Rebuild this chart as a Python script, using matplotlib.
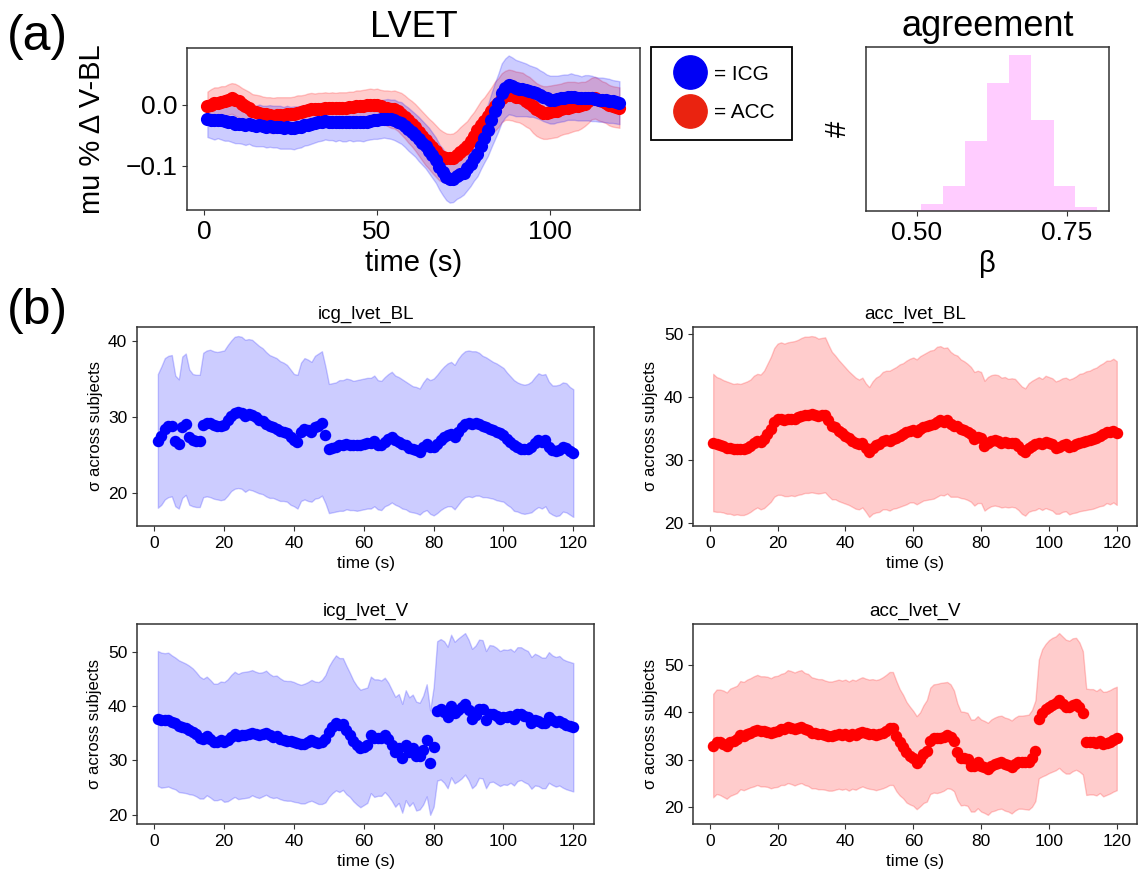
import numpy as np
import matplotlib
matplotlib.use('Agg')
import matplotlib.pyplot as plt
from matplotlib.lines import Line2D
from matplotlib.ticker import MultipleLocator

plt.rcParams['font.family'] = ['Liberation Sans', 'DejaVu Sans']
plt.rcParams['axes.edgecolor'] = '#333333'
plt.rcParams['axes.linewidth'] = 1.1
plt.rcParams['xtick.color'] = '#333333'
plt.rcParams['ytick.color'] = '#333333'
plt.rcParams['xtick.labelcolor'] = 'black'
plt.rcParams['ytick.labelcolor'] = 'black'

# time axis (s)
t = np.arange(1, 121)

# (a) LVET: mean % change V-BL, ICG and ACC, with spread
lvet_icg = [
    -0.024, -0.025, -0.026, -0.025, -0.026, -0.027, -0.028, -0.029, -0.032, -0.031,
    -0.032, -0.033, -0.032, -0.034, -0.035, -0.034, -0.035, -0.036, -0.035, -0.036,
    -0.036, -0.037, -0.038, -0.037, -0.038, -0.038, -0.037, -0.036, -0.034, -0.033,
    -0.032, -0.030, -0.029, -0.028, -0.027, -0.028, -0.028, -0.029, -0.028, -0.029,
    -0.029, -0.028, -0.029, -0.029, -0.028, -0.029, -0.028, -0.027, -0.026, -0.025,
    -0.024, -0.023, -0.023, -0.024, -0.025, -0.028, -0.030, -0.035, -0.040, -0.045,
    -0.050, -0.056, -0.062, -0.068, -0.075, -0.083, -0.091, -0.102, -0.110, -0.118,
    -0.122, -0.121, -0.117, -0.114, -0.111, -0.104, -0.097, -0.088, -0.080, -0.067,
    -0.054, -0.042, -0.026, -0.011, 0.003, 0.019, 0.027, 0.032, 0.030, 0.027,
    0.026, 0.025, 0.024, 0.022, 0.021, 0.019, 0.016, 0.013, 0.010, 0.008,
    0.008, 0.009, 0.010, 0.011, 0.012, 0.013, 0.012, 0.011, 0.010, 0.011,
    0.011, 0.010, 0.009, 0.008, 0.008, 0.007, 0.006, 0.005, 0.004, 0.003]
lvet_icg_sd = [
    0.029, 0.030, 0.031, 0.030, 0.031, 0.032, 0.031, 0.032, 0.031, 0.032,
    0.032, 0.033, 0.032, 0.033, 0.033, 0.034, 0.033, 0.034, 0.034, 0.034,
    0.034, 0.035, 0.034, 0.035, 0.034, 0.035, 0.034, 0.034, 0.033, 0.033,
    0.032, 0.032, 0.031, 0.031, 0.030, 0.030, 0.030, 0.031, 0.030, 0.031,
    0.031, 0.030, 0.031, 0.030, 0.031, 0.031, 0.030, 0.030, 0.030, 0.031,
    0.031, 0.031, 0.032, 0.032, 0.033, 0.033, 0.034, 0.034, 0.035, 0.035,
    0.035, 0.036, 0.036, 0.036, 0.037, 0.037, 0.037, 0.037, 0.038, 0.038,
    0.038, 0.038, 0.037, 0.037, 0.036, 0.036, 0.036, 0.036, 0.037, 0.038,
    0.040, 0.042, 0.044, 0.046, 0.047, 0.048, 0.048, 0.048, 0.047, 0.046,
    0.045, 0.044, 0.043, 0.042, 0.041, 0.041, 0.040, 0.040, 0.039, 0.039,
    0.039, 0.038, 0.038, 0.038, 0.037, 0.038, 0.037, 0.037, 0.036, 0.037,
    0.037, 0.037, 0.036, 0.036, 0.036, 0.036, 0.036, 0.035, 0.035, 0.035]
lvet_acc = [
    -0.003, 0.000, 0.003, 0.003, 0.004, 0.005, 0.008, 0.010, 0.008, 0.005,
    0.001, -0.003, -0.006, -0.010, -0.012, -0.013, -0.015, -0.016, -0.017, -0.018,
    -0.017, -0.017, -0.017, -0.016, -0.016, -0.015, -0.013, -0.012, -0.011, -0.009,
    -0.008, -0.008, -0.007, -0.007, -0.006, -0.006, -0.005, -0.006, -0.005, -0.005,
    -0.005, -0.004, -0.004, -0.003, -0.003, -0.002, -0.001, 0.000, -0.001, -0.001,
    -0.003, -0.005, -0.006, -0.008, -0.008, -0.011, -0.015, -0.020, -0.026, -0.031,
    -0.037, -0.044, -0.051, -0.058, -0.064, -0.070, -0.076, -0.082, -0.085, -0.088,
    -0.088, -0.087, -0.083, -0.077, -0.072, -0.067, -0.059, -0.051, -0.042, -0.033,
    -0.027, -0.019, -0.011, -0.003, 0.003, 0.011, 0.015, 0.016, 0.015, 0.013,
    0.012, 0.010, 0.006, 0.003, -0.003, -0.008, -0.011, -0.013, -0.013, -0.012,
    -0.011, -0.010, -0.008, -0.006, -0.005, -0.004, -0.003, -0.003, -0.001, 0.001,
    0.005, 0.010, 0.011, 0.008, 0.005, 0.003, -0.001, -0.003, -0.004, -0.005]
lvet_acc_sd = [
    0.024, 0.025, 0.025, 0.025, 0.026, 0.025, 0.025, 0.025, 0.026, 0.026,
    0.026, 0.027, 0.027, 0.027, 0.028, 0.028, 0.028, 0.028, 0.029, 0.029,
    0.029, 0.029, 0.029, 0.028, 0.028, 0.028, 0.028, 0.027, 0.027, 0.027,
    0.027, 0.026, 0.026, 0.026, 0.026, 0.025, 0.025, 0.025, 0.025, 0.025,
    0.025, 0.025, 0.025, 0.026, 0.026, 0.026, 0.026, 0.026, 0.026, 0.027,
    0.027, 0.028, 0.029, 0.030, 0.031, 0.032, 0.034, 0.035, 0.036, 0.037,
    0.038, 0.039, 0.040, 0.041, 0.041, 0.042, 0.042, 0.042, 0.041, 0.041,
    0.040, 0.040, 0.040, 0.040, 0.040, 0.040, 0.040, 0.039, 0.039, 0.039,
    0.039, 0.039, 0.039, 0.040, 0.040, 0.040, 0.040, 0.041, 0.041, 0.041,
    0.041, 0.042, 0.042, 0.042, 0.043, 0.043, 0.043, 0.043, 0.043, 0.043,
    0.043, 0.043, 0.042, 0.042, 0.042, 0.041, 0.040, 0.039, 0.038, 0.036,
    0.035, 0.034, 0.034, 0.034, 0.033, 0.033, 0.033, 0.033, 0.033, 0.033]

# agreement histogram (beta)
beta_edges = [0.471, 0.507, 0.544, 0.581, 0.617, 0.654, 0.691, 0.728, 0.764, 0.801]
beta_counts = [1, 5, 18, 50, 91, 111, 65, 18, 3]

# (b) sigma across subjects
icg_bl = [
    26.8, 27.5, 28.4, 28.7, 28.8, 26.8, 26.4, 28.6, 29.0, 27.3,
    26.9, 26.8, 26.8, 28.9, 29.1, 29.1, 28.9, 28.8, 28.8, 28.9,
    29.5, 30.1, 30.5, 30.6, 30.5, 30.1, 30.3, 30.2, 29.9, 29.6,
    29.4, 29.0, 28.7, 28.6, 28.4, 28.1, 28.0, 27.8, 27.3, 26.9,
    26.7, 28.0, 28.4, 28.2, 28.0, 28.6, 28.8, 29.1, 27.6, 25.8,
    25.9, 26.0, 26.2, 26.2, 26.4, 26.3, 26.2, 26.2, 26.3, 26.4,
    26.5, 26.5, 26.8, 26.3, 26.2, 26.7, 27.0, 27.3, 26.9, 26.7,
    26.4, 26.2, 25.9, 25.7, 25.6, 25.4, 26.0, 26.4, 26.0, 26.0,
    26.4, 26.9, 27.3, 27.6, 27.7, 27.3, 28.0, 28.6, 29.0, 29.1,
    29.0, 29.1, 29.0, 28.7, 28.6, 28.4, 28.2, 28.0, 27.8, 27.6,
    27.1, 26.7, 26.2, 26.0, 25.8, 25.7, 25.8, 26.0, 26.5, 26.9,
    26.7, 26.9, 26.0, 25.6, 25.5, 25.6, 26.0, 25.9, 25.5, 25.2]
icg_bl_sd = [
    8.8, 9.1, 9.3, 9.3, 9.3, 8.6, 8.5, 9.3, 9.3, 8.9,
    8.7, 8.7, 8.7, 9.5, 9.6, 9.7, 9.7, 9.7, 9.8, 9.8,
    9.9, 9.9, 10.0, 10.0, 10.0, 10.0, 9.9, 9.9, 9.8, 9.7,
    9.6, 9.5, 9.4, 9.3, 9.3, 9.2, 9.1, 9.0, 8.9, 8.7,
    8.8, 9.1, 9.3, 9.3, 9.2, 9.4, 9.5, 9.5, 9.0, 8.5,
    8.5, 8.5, 8.6, 8.6, 8.6, 8.6, 8.5, 8.6, 8.6, 8.6,
    8.6, 8.6, 8.6, 8.5, 8.5, 8.5, 8.6, 8.6, 8.5, 8.5,
    8.5, 8.4, 8.4, 8.3, 8.3, 8.3, 8.5, 8.7, 8.8, 9.0,
    9.1, 9.2, 9.3, 9.4, 9.5, 9.5, 9.6, 9.6, 9.6, 9.6,
    9.6, 9.5, 9.4, 9.3, 9.2, 9.1, 9.0, 9.0, 8.9, 8.8,
    8.7, 8.6, 8.6, 8.5, 8.5, 8.5, 8.5, 8.6, 8.7, 8.8,
    8.8, 8.7, 8.6, 8.5, 8.6, 8.6, 8.5, 8.5, 8.4, 8.4]
acc_bl = [
    32.8, 32.5, 32.4, 32.2, 32.0, 31.9, 31.7, 31.8, 31.7, 31.8,
    32.0, 32.3, 32.8, 33.1, 32.9, 33.3, 34.1, 34.9, 36.0, 36.5,
    36.6, 36.4, 36.5, 36.6, 36.6, 36.8, 37.0, 37.2, 37.2, 37.3,
    37.2, 37.0, 37.1, 37.2, 36.3, 35.5, 35.2, 34.7, 34.3, 33.9,
    33.5, 33.1, 32.7, 32.5, 32.8, 32.0, 31.3, 32.0, 32.4, 32.6,
    33.1, 33.2, 33.1, 33.4, 33.6, 33.9, 34.1, 34.4, 34.7, 34.8,
    34.5, 34.9, 35.2, 35.4, 35.6, 35.7, 36.1, 36.3, 36.1, 36.3,
    35.7, 35.5, 35.4, 35.0, 34.8, 34.5, 34.1, 33.4, 33.7, 33.6,
    32.3, 32.8, 33.1, 33.2, 33.1, 32.8, 32.9, 32.7, 32.8, 32.7,
    32.2, 31.6, 31.3, 32.0, 32.3, 32.5, 32.8, 32.5, 32.9, 32.7,
    32.5, 32.0, 32.1, 32.4, 32.5, 32.1, 32.3, 32.5, 32.8, 32.9,
    33.1, 33.2, 33.4, 33.6, 33.9, 34.1, 34.5, 34.4, 34.7, 34.3]
acc_bl_sd = [
    10.9, 10.7, 10.6, 10.5, 10.5, 10.4, 10.4, 10.4, 10.4, 10.5,
    10.5, 10.5, 10.6, 10.6, 10.7, 10.9, 11.2, 11.5, 11.8, 12.0,
    12.1, 12.1, 12.2, 12.2, 12.3, 12.3, 12.4, 12.4, 12.4, 12.4,
    12.4, 12.3, 12.3, 12.3, 12.0, 11.7, 11.4, 11.2, 11.0, 10.8,
    10.6, 10.5, 10.4, 10.3, 10.3, 10.2, 10.3, 10.5, 10.7, 10.8,
    10.9, 11.0, 11.1, 11.1, 11.2, 11.3, 11.3, 11.4, 11.4, 11.5,
    11.5, 11.6, 11.6, 11.7, 11.8, 11.8, 11.9, 11.8, 11.7, 11.6,
    11.5, 11.3, 11.2, 11.0, 10.9, 10.8, 10.7, 10.6, 10.5, 10.4,
    10.3, 10.4, 10.4, 10.4, 10.4, 10.3, 10.3, 10.2, 10.2, 10.2,
    10.1, 10.1, 10.1, 10.2, 10.3, 10.4, 10.4, 10.4, 10.5, 10.5,
    10.5, 10.5, 10.6, 10.6, 10.6, 10.7, 10.7, 10.8, 10.9, 10.9,
    11.0, 11.0, 11.1, 11.1, 11.2, 11.3, 11.3, 11.4, 11.4, 11.4]
icg_v = [
    37.7, 37.4, 37.4, 37.5, 37.1, 36.8, 36.3, 36.1, 35.9, 35.6,
    35.3, 34.8, 34.2, 34.0, 34.5, 34.0, 33.4, 33.4, 33.7, 33.4,
    33.7, 34.3, 34.8, 34.4, 34.6, 34.7, 34.8, 35.1, 34.8, 34.6,
    34.8, 35.1, 34.6, 34.3, 34.4, 34.0, 33.7, 33.6, 33.6, 33.4,
    33.2, 33.0, 33.1, 33.4, 33.7, 33.4, 33.2, 33.4, 34.0, 35.3,
    36.2, 36.9, 36.5, 36.7, 35.6, 34.7, 33.6, 32.8, 32.2, 32.5,
    32.8, 34.7, 34.1, 34.2, 34.1, 34.7, 33.9, 32.8, 31.6, 32.2,
    30.4, 32.8, 31.6, 32.2, 30.8, 30.8, 31.9, 33.7, 29.6, 32.5,
    39.1, 39.4, 38.9, 37.9, 40.0, 38.8, 39.3, 39.8, 40.4, 39.3,
    37.7, 38.3, 39.5, 39.4, 37.5, 38.6, 38.6, 38.2, 37.7, 38.0,
    37.9, 38.2, 37.7, 38.5, 38.6, 38.2, 37.9, 36.9, 37.5, 37.3,
    36.9, 36.9, 37.9, 37.4, 37.1, 37.3, 36.8, 36.5, 36.3, 36.1]
icg_v_sd = [
    12.4, 12.4, 12.3, 12.3, 12.2, 12.1, 12.1, 12.0, 11.9, 11.8,
    11.6, 11.4, 11.2, 11.0, 10.9, 10.8, 10.7, 10.7, 10.8, 11.0,
    11.2, 11.4, 11.5, 11.5, 11.6, 11.6, 11.6, 11.5, 11.5, 11.5,
    11.4, 11.4, 11.3, 11.2, 11.2, 11.1, 11.0, 11.0, 11.0, 11.0,
    10.9, 10.9, 11.0, 11.0, 11.1, 11.1, 11.2, 11.4, 11.7, 12.0,
    12.2, 12.4, 12.3, 12.1, 11.8, 11.4, 11.1, 10.9, 10.8, 10.7,
    10.6, 10.7, 10.8, 10.7, 10.6, 10.5, 10.4, 10.2, 10.1, 10.0,
    10.0, 10.1, 10.0, 9.9, 10.0, 9.8, 10.0, 10.3, 9.6, 11.0,
    12.8, 12.9, 13.0, 13.0, 13.1, 13.0, 13.1, 13.1, 13.0, 12.9,
    12.8, 12.8, 12.7, 12.7, 12.6, 12.6, 12.5, 12.5, 12.4, 12.4,
    12.4, 12.3, 12.3, 12.3, 12.2, 12.2, 12.2, 12.1, 12.1, 12.0,
    12.0, 12.0, 12.0, 11.9, 11.9, 11.9, 11.8, 11.8, 11.8, 11.8]
acc_v = [
    33.0, 33.8, 33.7, 33.4, 33.0, 33.7, 34.0, 34.3, 35.2, 35.0,
    35.4, 35.7, 36.0, 36.3, 36.0, 36.0, 35.9, 35.6, 35.9, 36.0,
    36.4, 36.5, 37.0, 36.8, 36.5, 36.8, 37.0, 36.5, 36.3, 35.7,
    35.6, 35.4, 35.4, 35.2, 35.0, 35.0, 35.2, 35.4, 35.2, 35.4,
    35.0, 35.4, 35.2, 35.6, 35.9, 35.6, 35.4, 35.4, 35.2, 35.4,
    35.7, 36.1, 36.6, 36.6, 35.0, 33.7, 32.8, 31.6, 30.9, 30.3,
    29.4, 30.1, 31.2, 31.9, 34.0, 34.5, 34.5, 34.7, 34.9, 35.2,
    34.9, 34.0, 31.7, 30.3, 30.3, 30.1, 28.8, 28.8, 29.5, 28.8,
    28.5, 28.1, 28.8, 29.1, 29.4, 29.5, 29.1, 28.9, 28.5, 29.1,
    29.5, 29.5, 29.5, 29.5, 30.3, 31.9, 38.6, 39.9, 40.6, 41.2,
    41.6, 41.9, 42.5, 41.8, 41.2, 41.1, 41.6, 41.8, 41.1, 39.9,
    33.8, 33.8, 33.8, 33.5, 34.0, 33.3, 33.5, 33.8, 34.2, 34.5]
acc_v_sd = [
    10.9, 11.0, 11.1, 11.2, 11.2, 11.3, 11.3, 11.3, 11.4, 11.4,
    11.5, 11.5, 11.6, 11.6, 11.6, 11.6, 11.6, 11.6, 11.7, 11.7,
    11.7, 11.8, 11.9, 11.9, 11.9, 11.9, 11.9, 11.8, 11.8, 11.7,
    11.6, 11.6, 11.6, 11.5, 11.5, 11.5, 11.5, 11.5, 11.5, 11.5,
    11.5, 11.5, 11.5, 11.5, 11.5, 11.5, 11.5, 11.6, 11.6, 11.6,
    11.7, 11.8, 11.9, 11.9, 11.6, 11.2, 10.9, 10.6, 10.3, 10.0,
    9.8, 9.9, 10.3, 10.7, 11.2, 11.4, 11.5, 11.5, 11.4, 11.2,
    11.0, 10.6, 10.2, 9.9, 9.8, 9.8, 9.7, 9.7, 9.7, 9.7,
    9.7, 9.7, 9.7, 9.8, 9.8, 9.8, 9.8, 9.8, 9.8, 9.8,
    9.8, 9.8, 9.9, 10.0, 10.2, 10.6, 12.5, 13.4, 13.8, 14.0,
    14.1, 14.1, 14.2, 14.2, 14.1, 14.0, 14.0, 13.9, 13.6, 13.0,
    11.2, 11.1, 11.1, 11.0, 11.0, 11.0, 10.9, 10.9, 10.9, 10.9]

fig = plt.figure(figsize=(11.46, 8.75), dpi=100)

# ---- (a) LVET
ax = fig.add_axes([0.163, 0.760, 0.3955, 0.185])
m, s = np.array(lvet_acc), np.array(lvet_acc_sd)
ax.fill_between(t, m - s, m + s, color='red', alpha=0.2)
m2, s2 = np.array(lvet_icg), np.array(lvet_icg_sd)
ax.fill_between(t, m2 - s2, m2 + s2, color='blue', alpha=0.2)
ax.scatter(t, lvet_acc, s=90, color='red', lw=0, zorder=3)
ax.scatter(t, lvet_icg, s=90, color='blue', lw=0, zorder=4)
ax.set_title('LVET', fontsize=26, pad=8)
ax.set_xlabel('time (s)', fontsize=21)
ax.set_ylabel('mu % \u0394 V-BL', fontsize=21, labelpad=14)
ax.set_xticks([0, 50, 100])
ax.set_yticks([-0.1, 0.0])
ax.tick_params(labelsize=19)

handles = [Line2D([], [], ls='none', marker='o', ms=24, color='#0000f5'),
           Line2D([], [], ls='none', marker='o', ms=24, color='#ea2310')]
leg = fig.legend(handles, ['= ICG', '= ACC'], loc='upper left',
                 bbox_to_anchor=(651 / 1146, 1 - 47 / 875), borderaxespad=0,
                 fontsize=15, fancybox=False, edgecolor='black', framealpha=1,
                 handletextpad=0.15, labelspacing=0.95, borderpad=0.85,
                 handlelength=2.0)
leg.get_frame().set_linewidth(1.3)

# ---- agreement histogram
axh = fig.add_axes([0.7557, 0.7589, 0.212, 0.1874])
axh.hist(beta_edges[:-1], bins=beta_edges, weights=beta_counts, color='#ffccff')
axh.set_xlim(0.415, 0.8205)
axh.set_yticks([])
axh.set_xticks([0.5, 0.75])
axh.set_xticklabels(['0.50', '0.75'])
axh.tick_params(labelsize=19)
axh.set_title('agreement', fontsize=26, pad=8)
axh.set_xlabel('\u03b2', fontsize=21)
axh.set_ylabel('#', fontsize=21, labelpad=10)

# ---- (b) panels
panels = [
    ('icg_lvet_BL', icg_bl, icg_bl_sd, 'blue', [0.1196, 0.3989, 0.3988, 0.2274]),
    ('acc_lvet_BL', acc_bl, acc_bl_sd, 'red', [0.6047, 0.3989, 0.3874, 0.2274]),
    ('icg_lvet_V', icg_v, icg_v_sd, 'blue', [0.1196, 0.0583, 0.3988, 0.2286]),
    ('acc_lvet_V', acc_v, acc_v_sd, 'red', [0.6047, 0.0583, 0.3874, 0.2286]),
]
for name, mean, sd, col, pos in panels:
    axb = fig.add_axes(pos)
    mm, ss = np.array(mean), np.array(sd)
    axb.fill_between(t, mm - ss, mm + ss, color=col, alpha=0.2)
    axb.scatter(t, mean, s=68, color=col, lw=0, zorder=3)
    axb.set_title(name, fontsize=13.5)
    axb.set_xlabel('time (s)', fontsize=12.5)
    axb.set_ylabel('\u03c3 across subjects', fontsize=12)
    axb.xaxis.set_major_locator(MultipleLocator(20))
    axb.yaxis.set_major_locator(MultipleLocator(10))
    axb.tick_params(labelsize=12.5)

fig.text(0.006, 0.958, '(a)', fontsize=36, va='center')
fig.text(0.006, 0.645, '(b)', fontsize=36, va='center')

fig.savefig('out.png', dpi=100)
